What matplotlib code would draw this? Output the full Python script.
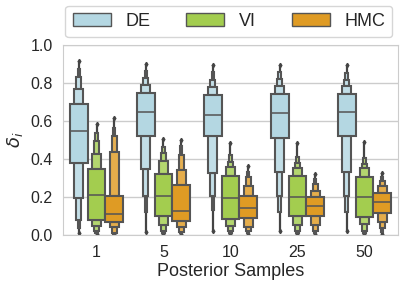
import numpy as np
import matplotlib
matplotlib.use("Agg")
import matplotlib.pyplot as plt
import seaborn as sns
from matplotlib.patches import Rectangle, Patch
from matplotlib.colors import to_rgb

sns.set_style("whitegrid")
plt.rcParams['font.family'] = ['Liberation Sans', 'DejaVu Sans']

# categories / hues
samples = ["1", "5", "10", "25", "50"]
methods = ["DE", "VI", "HMC"]
base_colors = ["#b4d7e2", "#a3cd4f", "#df9b24"]

# letter values (innermost level first)
de_median = [0.546, 0.646, 0.633, 0.640, 0.646]
de_hi = [[0.689, 0.768, 0.833, 0.872],
         [0.746, 0.789, 0.828, 0.860],
         [0.737, 0.777, 0.816, 0.856],
         [0.742, 0.781, 0.819, 0.856],
         [0.740, 0.781, 0.816, 0.851]]
de_lo = [[0.377, 0.196, 0.079, 0.035],
         [0.518, 0.346, 0.207, 0.123],
         [0.518, 0.325, 0.207, 0.132],
         [0.509, 0.330, 0.205, 0.123],
         [0.518, 0.330, 0.205, 0.123]]
de_tip_hi = [0.917, 0.900, 0.895, 0.895, 0.895]
de_tip_lo = [0.010, 0.018, 0.020, 0.020, 0.020]

vi_median = [0.212, 0.205, 0.193, 0.202, 0.198]
vi_hi = [[0.347, 0.426, 0.496, 0.535],
         [0.323, 0.388, 0.433, 0.461],
         [0.312, 0.356, 0.386, 0.421],
         [0.312, 0.354, 0.381, 0.412],
         [0.307, 0.351, 0.372, 0.404]]
vi_lo = [[0.079, 0.047, 0.020, 0.010],
         [0.102, 0.053, 0.023, 0.012],
         [0.084, 0.047, 0.023, 0.012],
         [0.102, 0.053, 0.023, 0.012],
         [0.096, 0.056, 0.023, 0.012]]
vi_tip_hi = [0.583, 0.507, 0.482, 0.482, 0.488]
vi_tip_lo = [0.004, 0.004, 0.004, 0.004, 0.004]

hmc_median = [0.109, 0.125, 0.144, 0.154, 0.175]
hmc_hi = [[0.205, 0.437, 0.521, 0.561],
          [0.265, 0.344, 0.421, 0.468],
          [0.204, 0.260, 0.307, 0.332],
          [0.202, 0.233, 0.268, 0.293],
          [0.219, 0.258, 0.286, 0.307]]
hmc_lo = [[0.070, 0.040, 0.012, 0.006],
          [0.075, 0.044, 0.016, 0.008],
          [0.091, 0.044, 0.023, 0.010],
          [0.102, 0.053, 0.023, 0.010],
          [0.118, 0.070, 0.035, 0.015]]
hmc_tip_hi = [0.614, 0.500, 0.360, 0.321, 0.328]
hmc_tip_lo = [0.003, 0.003, 0.003, 0.003, 0.003]

all_data = [(de_median, de_hi, de_lo, de_tip_hi, de_tip_lo),
            (vi_median, vi_hi, vi_lo, vi_tip_hi, vi_tip_lo),
            (hmc_median, hmc_hi, hmc_lo, hmc_tip_hi, hmc_tip_lo)]

edge = "#555555"
dark = "#444444"
hue_w = 0.8 / len(methods)


def lighten(c, f):
    r = np.array(to_rgb(c))
    return tuple(r + (1 - r) * f)


fig = plt.figure(figsize=(4.04, 2.89), dpi=100)
ax = fig.add_axes([0.156, 0.187, 0.829, 0.658])

for h, (med, hi, lo, tip_hi, tip_lo) in enumerate(all_data):
    offset = (h - 1) * hue_w
    for g in range(len(samples)):
        x = g + offset
        # outlier tips (dense points) behind the boxes
        ax.plot([x, x], [tip_lo[g], tip_hi[g]], color=dark, lw=1.6, zorder=2,
                solid_capstyle="butt")
        ax.plot([x, x], [tip_lo[g], tip_hi[g]], ls="none", marker="d", ms=2.2,
                color=dark, zorder=2)
        nlev = len(hi[g])
        # outermost first so inner boxes sit on top
        for k in range(nlev - 1, -1, -1):
            w = hue_w * 0.5 ** k
            col = base_colors[h] if k == 0 else lighten(base_colors[h], 0.15 + 0.03 * k)
            z = 3 + (nlev - k)
            if k == 0:
                ax.add_patch(Rectangle((x - w / 2, lo[g][0]), w, hi[g][0] - lo[g][0],
                                       facecolor=col, edgecolor=edge, lw=1.5, zorder=z))
            else:
                ax.add_patch(Rectangle((x - w / 2, hi[g][k - 1]), w, hi[g][k] - hi[g][k - 1],
                                       facecolor=col, edgecolor=edge, lw=1.5, zorder=z))
                ax.add_patch(Rectangle((x - w / 2, lo[g][k]), w, lo[g][k - 1] - lo[g][k],
                                       facecolor=col, edgecolor=edge, lw=1.5, zorder=z))
        ax.plot([x - hue_w / 2, x + hue_w / 2], [med[g], med[g]], color="#555555",
                lw=1.4, alpha=0.8, zorder=10)

ax.set_xlim(-0.5, len(samples) - 0.5)
ax.set_ylim(0, 1.0)
ax.set_xticks(range(len(samples)))
ax.set_xticklabels(samples)
ax.set_yticks([0.0, 0.2, 0.4, 0.6, 0.8, 1.0])
ax.xaxis.grid(False)
ax.yaxis.grid(True, color="#cccccc", lw=1)
ax.tick_params(labelsize=11.5, pad=4)
ax.set_xlabel("Posterior Samples", fontsize=13, labelpad=2)
ax.set_ylabel(r"$\delta_i$", fontsize=13)
for s in ax.spines.values():
    s.set_color("#cccccc")

handles = [Patch(facecolor=c, edgecolor=edge, lw=1) for c in base_colors]
ax.legend(handles, methods, loc="lower center", bbox_to_anchor=(0.495, 1.04), ncol=3,
          fontsize=13, frameon=True, handlelength=2.1, handleheight=0.7,
          columnspacing=2.0, borderaxespad=0)

fig.savefig("out.png", dpi=100)
